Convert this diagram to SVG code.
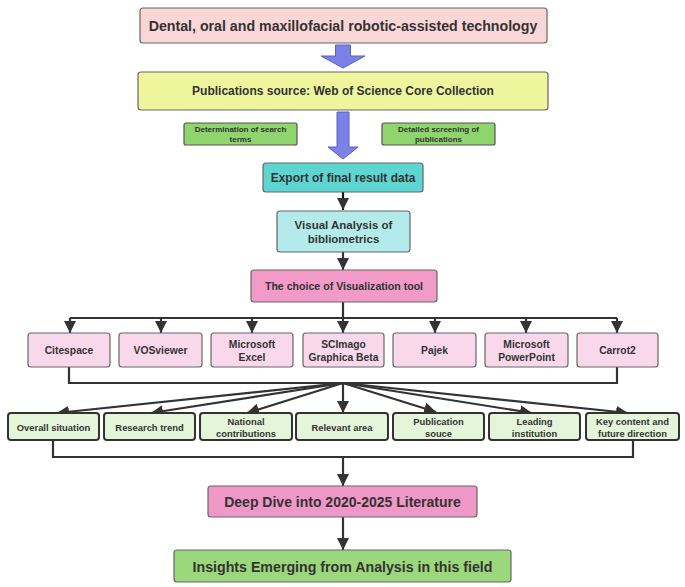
<svg xmlns="http://www.w3.org/2000/svg" width="685" height="587" viewBox="0 0 685 587">
<defs>
<marker id="ah" markerUnits="userSpaceOnUse" markerWidth="12" markerHeight="12" refX="10" refY="5" orient="auto" viewBox="0 0 10 10">
<path d="M0,0 L10,5 L0,10 z" fill="#333"/>
</marker>
<style>
text{font-family:"Liberation Sans",Arial,sans-serif;font-weight:bold;fill:#333;text-anchor:middle;dominant-baseline:central}
.box{stroke:#666;stroke-width:1.2}
.tool{fill:#f9d8eb;stroke:#666;stroke-width:1.2}
.res{fill:#e4f5da;stroke:#333;stroke-width:2}
.con{fill:none;stroke:#333;stroke-width:2.2}
.blue{fill:#7a82e8;stroke:#5b60c2;stroke-width:1}
.t11{font-size:10.3px}
.t10{font-size:9.4px}
</style>
</defs>
<rect width="685" height="587" fill="#fff"/>

<g id="connectors">
<polygon class="blue" points="335.5,45 350.5,45 350.5,56 365,56 343,68 321,56 335.5,56"/>
<polygon class="blue" points="337,112 349,112 349,147 358,147 343,159 328,147 337,147"/>
<line class="con" x1="343" y1="192" x2="343" y2="210" marker-end="url(#ah)" style="stroke:#111"/>
<line class="con" x1="343" y1="252" x2="343" y2="270" marker-end="url(#ah)"/>
<path class="con" d="M343,302 V318"/>
<path class="con" d="M70,318 H617"/>
<line class="con" x1="70" y1="318" x2="70" y2="333" marker-end="url(#ah)"/>
<line class="con" x1="161" y1="318" x2="161" y2="333" marker-end="url(#ah)"/>
<line class="con" x1="252" y1="318" x2="252" y2="333" marker-end="url(#ah)"/>
<line class="con" x1="343" y1="318" x2="343" y2="333" marker-end="url(#ah)"/>
<line class="con" x1="435" y1="318" x2="435" y2="333" marker-end="url(#ah)"/>
<line class="con" x1="526" y1="318" x2="526" y2="333" marker-end="url(#ah)"/>
<line class="con" x1="617" y1="318" x2="617" y2="333" marker-end="url(#ah)"/>
<path class="con" d="M69,367 V383 H617 V367"/>
<line class="con" x1="343" y1="383" x2="57" y2="413" marker-end="url(#ah)"/>
<line class="con" x1="343" y1="383" x2="151" y2="413" marker-end="url(#ah)"/>
<line class="con" x1="343" y1="383" x2="247" y2="413" marker-end="url(#ah)"/>
<line class="con" x1="343" y1="383" x2="343" y2="413" marker-end="url(#ah)"/>
<line class="con" x1="343" y1="383" x2="436" y2="412" marker-end="url(#ah)"/>
<line class="con" x1="343" y1="383" x2="532" y2="413" marker-end="url(#ah)"/>
<line class="con" x1="343" y1="383" x2="628" y2="413" marker-end="url(#ah)"/>
<path class="con" d="M53,440 V457 H633 V440"/>
<line class="con" x1="343" y1="457" x2="343" y2="486" marker-end="url(#ah)"/>
<line class="con" x1="343" y1="517" x2="343" y2="550" marker-end="url(#ah)"/>
</g>

<g id="n-title"><rect class="box" x="140" y="8" width="407" height="35" rx="3" fill="#f9d7d6"/><text x="343" y="26" style="font-size:14.2px">Dental, oral and maxillofacial robotic-assisted technology</text></g>
<g id="n-source"><rect class="box" x="138" y="72" width="410" height="38" rx="3" fill="#eef59d"/><text x="343" y="91" style="font-size:12px">Publications source: Web of Science Core Collection</text></g>
<g id="n-terms"><rect class="box" x="184" y="123" width="113" height="22" rx="2" fill="#8fd46c" style="stroke:#555"/><text x="240.5" y="129" style="font-size:8px">Determination of search</text><text x="240.5" y="139" style="font-size:8px">terms</text></g>
<g id="n-screen"><rect class="box" x="382" y="123" width="113" height="22" rx="2" fill="#8fd46c" style="stroke:#555"/><text x="438.5" y="129" style="font-size:8px">Detailed screening of</text><text x="438.5" y="139" style="font-size:8px">publications</text></g>
<g id="n-export"><rect class="box" x="263" y="163" width="160" height="29" rx="3" fill="#5dd5d2"/><text x="343" y="177.5" style="font-size:12px">Export of final result data</text></g>
<g id="n-visual"><rect class="box" x="277" y="211" width="133" height="41" rx="3" fill="#b3ebea"/><text x="343.5" y="225" style="font-size:11.5px">Visual Analysis of</text><text x="343.5" y="239" style="font-size:11.5px">bibliometrics</text></g>
<g id="n-choice"><rect class="box" x="251" y="270" width="186" height="32" rx="3" fill="#f29ac8"/><text x="344" y="286" style="font-size:10.6px">The choice of Visualization tool</text></g>

<g id="n-citespace"><rect class="tool" x="28" y="333" width="82" height="34" rx="3"/><text class="t11" x="69" y="350">Citespace</text></g>
<g id="n-vosviewer"><rect class="tool" x="119" y="333" width="83" height="34" rx="3"/><text class="t11" x="160.5" y="350">VOSviewer</text></g>
<g id="n-excel"><rect class="tool" x="211" y="333" width="82" height="34" rx="3"/><text class="t11" x="252" y="344">Microsoft</text><text class="t11" x="252" y="357">Excel</text></g>
<g id="n-scimago"><rect class="tool" x="303" y="333" width="81" height="34" rx="3"/><text class="t11" x="343.5" y="344">SCImago</text><text class="t11" x="343.5" y="357">Graphica Beta</text></g>
<g id="n-pajek"><rect class="tool" x="393" y="333" width="83" height="34" rx="3"/><text class="t11" x="434.5" y="350">Pajek</text></g>
<g id="n-powerpoint"><rect class="tool" x="485" y="333" width="83" height="34" rx="3"/><text class="t11" x="526.5" y="344">Microsoft</text><text class="t11" x="526.5" y="357">PowerPoint</text></g>
<g id="n-carrot2"><rect class="tool" x="577" y="333" width="81" height="34" rx="3"/><text class="t11" x="617.5" y="350">Carrot2</text></g>

<g id="n-overall"><rect class="res" x="8" y="413" width="91" height="27" rx="3"/><text class="t10" x="53.5" y="427">Overall situation</text></g>
<g id="n-trend"><rect class="res" x="104" y="413" width="91" height="27" rx="3"/><text class="t10" x="149.5" y="427">Research trend</text></g>
<g id="n-national"><rect class="res" x="200" y="413" width="92" height="27" rx="3"/><text class="t10" x="246" y="421">National</text><text class="t10" x="246" y="433">contributions</text></g>
<g id="n-relevant"><rect class="res" x="296" y="413" width="92" height="27" rx="3"/><text class="t10" x="342" y="427">Relevant area</text></g>
<g id="n-publication"><rect class="res" x="393" y="413" width="91" height="27" rx="3"/><text class="t10" x="438.5" y="421">Publication</text><text class="t10" x="438.5" y="433">souce</text></g>
<g id="n-leading"><rect class="res" x="489" y="413" width="91" height="27" rx="3"/><text class="t10" x="534.5" y="421">Leading</text><text class="t10" x="534.5" y="433">institution</text></g>
<g id="n-key"><rect class="res" x="586" y="413" width="93" height="27" rx="3"/><text class="t10" x="632.5" y="421">Key content and</text><text class="t10" x="632.5" y="433">future direction</text></g>

<g id="n-deepdive"><rect class="box" x="208" y="486" width="269" height="31" rx="3" fill="#ef98c8"/><text x="342.5" y="502" style="font-size:14px">Deep Dive into 2020-2025 Literature</text></g>
<g id="n-insights"><rect class="box" x="174" y="550" width="337" height="32" rx="3" fill="#9bd77b"/><text x="342.5" y="566.5" style="font-size:14.2px">Insights Emerging from Analysis in this field</text></g>
</svg>
